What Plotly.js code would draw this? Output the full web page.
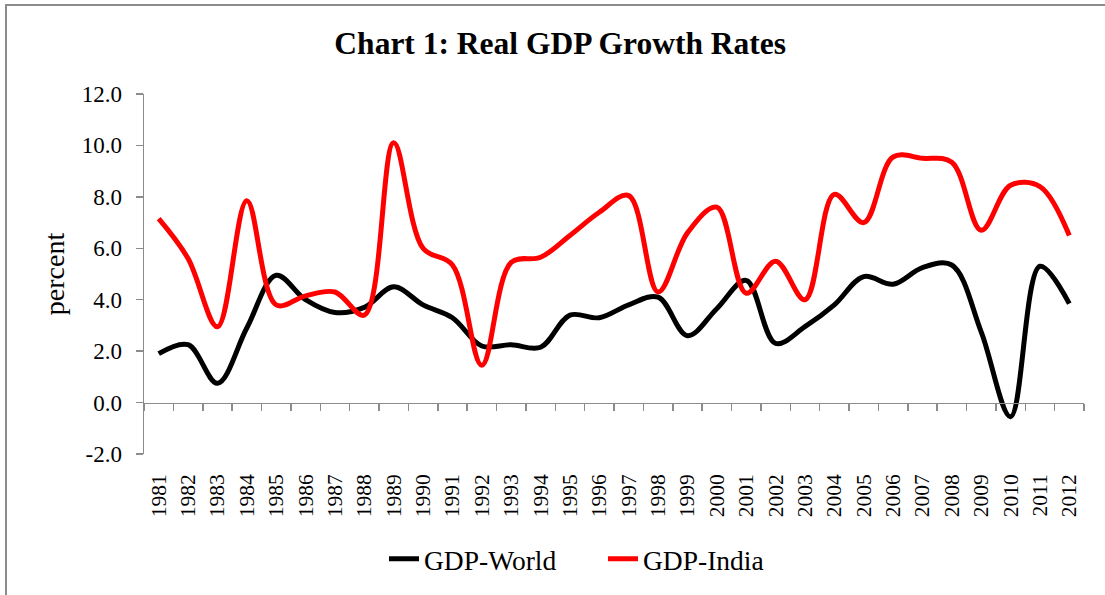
<!DOCTYPE html>
<html>
<head>
<meta charset="utf-8">
<script src="https://cdn.plot.ly/plotly-3.0.1.min.js"></script>
<style>
  html, body { margin: 0; padding: 0; background: #fff; overflow: hidden; }
  #chart { width: 1105px; height: 595px; position: absolute; left: 0; top: 0; }
  #frame { position: absolute; left: 5px; top: 4px; width: 2000px; height: 2000px;
           border-top: 2px solid #8c8c8c; border-left: 2px solid #8c8c8c; pointer-events: none; }
</style>
</head>
<body>
<div id="chart"></div>
<div id="frame"></div>
<script>
// ---- data ----
const years = ['1981','1982','1983','1984','1985','1986','1987','1988','1989','1990',
               '1991','1992','1993','1994','1995','1996','1997','1998','1999','2000',
               '2001','2002','2003','2004','2005','2006','2007','2008','2009','2010',
               '2011','2012'];
const gdpWorld = [1.9, 2.25, 0.75, 2.9, 4.95, 4.0, 3.5, 3.7, 4.5, 3.8,
                  3.3, 2.2, 2.25, 2.15, 3.4, 3.3, 3.8, 4.1, 2.6, 3.65,
                  4.75, 2.3, 2.95, 3.8, 4.9, 4.6, 5.25, 5.35, 2.75, -0.55,
                  5.3, 3.85];
const gdpIndia = [7.15, 5.6, 2.95, 7.85, 3.8, 4.15, 4.3, 3.4, 10.1, 6.0,
                  5.35, 1.45, 5.45, 5.65, 6.5, 7.4, 8.05, 4.3, 6.6, 7.6,
                  4.25, 5.5, 4.0, 8.1, 7.0, 9.55, 9.5, 9.35, 6.7, 8.45,
                  8.4, 6.5];
const yTickVals = [-2, 0, 2, 4, 6, 8, 10, 12];
const yTickText = yTickVals.map(v => v.toFixed(1));
const seriesNames = ['GDP-World', 'GDP-India'];

const FONT = 'Liberation Serif, Times New Roman, serif';
const AXIS = '#8c8c8c';

const traces = [
  { x: years, y: gdpWorld, name: seriesNames[0], type: 'scatter', mode: 'lines',
    line: { color: '#000000', width: 5, shape: 'spline', smoothing: 1 }, xaxis: 'x', yaxis: 'y' },
  { x: years, y: gdpIndia, name: seriesNames[1], type: 'scatter', mode: 'lines',
    line: { color: '#ff0000', width: 5, shape: 'spline', smoothing: 1 }, xaxis: 'x', yaxis: 'y' },
  // invisible carrier for the bottom category labels
  { x: years, y: gdpWorld, type: 'scatter', mode: 'lines', opacity: 0, showlegend: false,
    hoverinfo: 'skip', line: { color: 'rgba(0,0,0,0)' }, xaxis: 'x2', yaxis: 'y' }
];

const layout = {
  width: 1105, height: 595,
  margin: { l: 144, r: 21, t: 94, b: 137 },
  paper_bgcolor: '#ffffff', plot_bgcolor: '#ffffff',
  font: { family: FONT, color: '#000000' },
  showlegend: true,
  title: { text: 'Chart 1: Real GDP Growth Rates', font: { family: FONT, size: 31.5, weight: 'bold', color: '#000' },
           xref: 'container', x: 0.507, xanchor: 'center', yref: 'container', y: 0.928, yanchor: 'middle' },
  xaxis: {
    type: 'category', categoryorder: 'array', categoryarray: years, range: [-0.5, years.length - 0.5],
    anchor: 'free', position: 2 / 14,
    showline: true, linecolor: AXIS, linewidth: 1.5,
    ticks: 'outside', ticklen: 7, tickcolor: AXIS, tickwidth: 1.5, tickson: 'boundaries',
    showticklabels: false, showgrid: false, zeroline: false, fixedrange: true
  },
  xaxis2: {
    type: 'category', categoryorder: 'array', categoryarray: years, range: [-0.5, years.length - 0.5],
    overlaying: 'x', anchor: 'y', side: 'bottom',
    showline: false, ticks: '', showgrid: false, zeroline: false,
    tickangle: -90, tickfont: { family: FONT, size: 21.5, color: '#000' }, ticklabelstandoff: 15
  },
  yaxis: {
    range: [-2, 12], tickmode: 'array', tickvals: yTickVals, ticktext: yTickText,
    showline: true, linecolor: AXIS, linewidth: 1.5,
    ticks: 'outside', ticklen: 7, tickcolor: AXIS, tickwidth: 1.5, ticklabelstandoff: 9,
    tickfont: { family: FONT, size: 23, color: '#000' },
    showgrid: false, zeroline: false,
    title: { text: 'percent', font: { family: FONT, size: 28, color: '#000' }, standoff: 9 }
  },
  legend: {
    orientation: 'h', x: 0.2553, xanchor: 'left', y: -0.2915, yanchor: 'middle',
    font: { family: FONT, size: 27.5, color: '#000' },
    entrywidth: 174, entrywidthmode: 'pixels', bgcolor: 'rgba(0,0,0,0)'
  }
};

Plotly.newPlot('chart', traces, layout, { displayModeBar: false, staticPlot: true });
</script>
</body>
</html>
